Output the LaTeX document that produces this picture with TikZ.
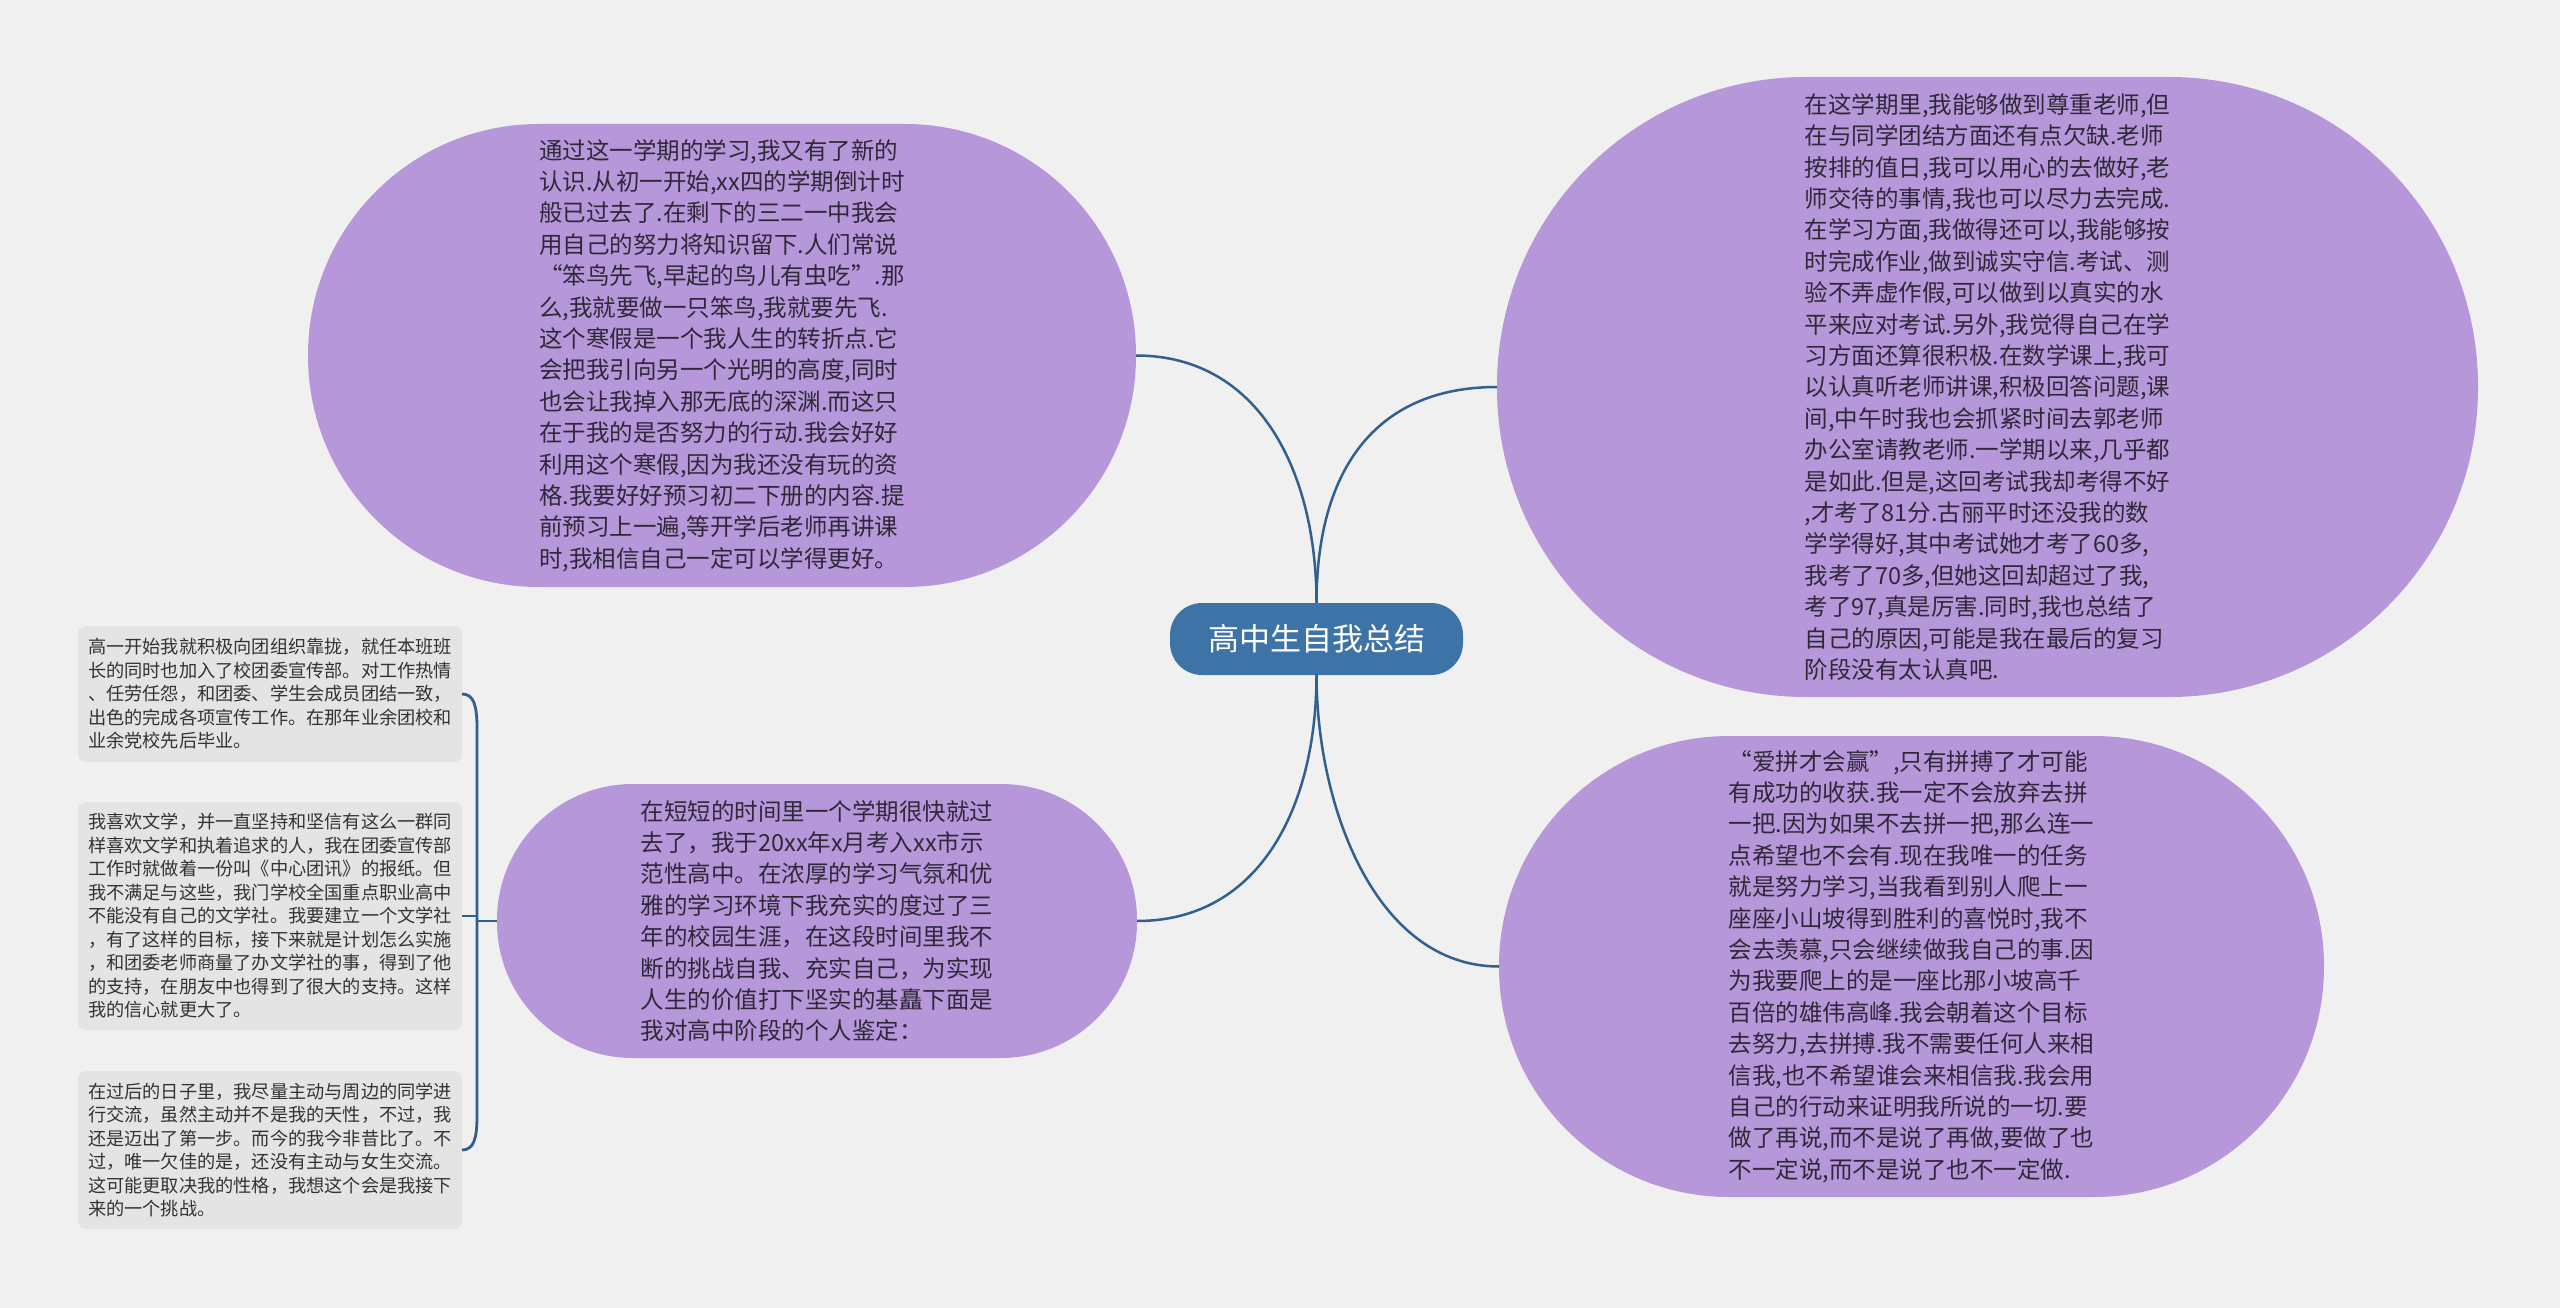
\documentclass[tikz,border=0pt]{standalone}
\usepackage{fontspec}
\setmainfont{Noto Sans CJK SC}
\usetikzlibrary{calc}
\definecolor{bg}{RGB}{240,240,240}
\definecolor{bub}{RGB}{182,151,218}
\definecolor{ctr}{RGB}{61,115,166}
\definecolor{conn}{RGB}{47,96,142}
\definecolor{boxf}{RGB}{228,228,228}
\definecolor{txt}{RGB}{48,40,56}
\definecolor{boxtxt}{RGB}{51,51,51}
\begin{document}
\begin{tikzpicture}[x=1pt,y=-1pt,
  bubble/.style={fill=bub, inner sep=0pt, outer sep=0pt, align=left, text=txt,
    font=\fontsize{23.5}{31.4}\selectfont},
  leaf/.style={fill=boxf, rounded corners=8pt, inner sep=0pt, outer sep=0pt,
    minimum width=384pt, align=left, text=boxtxt, font=\fontsize{18.2}{23.5}\selectfont},
  root/.style={fill=ctr, rounded corners=32pt, inner sep=0pt, outer sep=0pt,
    minimum width=293pt, minimum height=72pt, text=white, font=\fontsize{31}{36}\selectfont},
  link/.style={draw=conn, line width=2.5pt},
  brace/.style={draw=conn, line width=2.8pt}]
\fill[bg] (0,0) rectangle (2560,1308);
\useasboundingbox (0,0) rectangle (2560,1308);

\node[root] (root) at (1316.5,639) {高中生自我总结};

\node[bubble, minimum width=828pt, minimum height=463pt, rounded corners=231pt] (tl) at (722,355.5) {%
通过这一学期的学习,我又有了新的\\
认识.从初一开始,xx四的学期倒计时\\
般已过去了.在剩下的三二一中我会\\
用自己的努力将知识留下.人们常说\\
“笨鸟先飞,早起的鸟儿有虫吃”.那\\
么,我就要做一只笨鸟,我就要先飞.\\
这个寒假是一个我人生的转折点.它\\
会把我引向另一个光明的高度,同时\\
也会让我掉入那无底的深渊.而这只\\
在于我的是否努力的行动.我会好好\\
利用这个寒假,因为我还没有玩的资\\
格.我要好好预习初二下册的内容.提\\
前预习上一遍,等开学后老师再讲课\\
时,我相信自己一定可以学得更好。};

\node[bubble, minimum width=981pt, minimum height=620pt, rounded corners=309pt] (tr) at (1987.5,387) {%
在这学期里,我能够做到尊重老师,但\\
在与同学团结方面还有点欠缺.老师\\
按排的值日,我可以用心的去做好,老\\
师交待的事情,我也可以尽力去完成.\\
在学习方面,我做得还可以,我能够按\\
时完成作业,做到诚实守信.考试、测\\
验不弄虚作假,可以做到以真实的水\\
平来应对考试.另外,我觉得自己在学\\
习方面还算很积极.在数学课上,我可\\
以认真听老师讲课,积极回答问题,课\\
间,中午时我也会抓紧时间去郭老师\\
办公室请教老师.一学期以来,几乎都\\
是如此.但是,这回考试我却考得不好\\
,才考了81分.古丽平时还没我的数\\
学学得好,其中考试她才考了60多,\\
我考了70多,但她这回却超过了我,\\
考了97,真是厉害.同时,我也总结了\\
自己的原因,可能是我在最后的复习\\
阶段没有太认真吧.};

\node[bubble, minimum width=825pt, minimum height=461pt, rounded corners=230pt] (br) at (1911.5,966.5) {%
“爱拼才会赢”,只有拼搏了才可能\\
有成功的收获.我一定不会放弃去拼\\
一把.因为如果不去拼一把,那么连一\\
点希望也不会有.现在我唯一的任务\\
就是努力学习,当我看到别人爬上一\\
座座小山坡得到胜利的喜悦时,我不\\
会去羡慕,只会继续做我自己的事.因\\
为我要爬上的是一座比那小坡高千\\
百倍的雄伟高峰.我会朝着这个目标\\
去努力,去拼搏.我不需要任何人来相\\
信我,也不希望谁会来相信我.我会用\\
自己的行动来证明我所说的一切.要\\
做了再说,而不是说了再做,要做了也\\
不一定说,而不是说了也不一定做.};

\node[bubble, minimum width=640pt, minimum height=274pt, rounded corners=136pt] (bm) at (817,921) {%
在短短的时间里一个学期很快就过\\
去了，我于20xx年x月考入xx市示\\
范性高中。在浓厚的学习气氛和优\\
雅的学习环境下我充实的度过了三\\
年的校园生涯，在这段时间里我不\\
断的挑战自我、充实自己，为实现\\
人生的价值打下坚实的基矗下面是\\
我对高中阶段的个人鉴定：};

\node[leaf, minimum height=136pt] (b1) at (270,694) {%
高一开始我就积极向团组织靠拢，就任本班班\\
长的同时也加入了校团委宣传部。对工作热情\\
、任劳任怨，和团委、学生会成员团结一致，\\
出色的完成各项宣传工作。在那年业余团校和\\
业余党校先后毕业。};

\node[leaf, minimum height=228pt] (b2) at (270,916) {%
我喜欢文学，并一直坚持和坚信有这么一群同\\
样喜欢文学和执着追求的人，我在团委宣传部\\
工作时就做着一份叫《中心团讯》的报纸。但\\
我不满足与这些，我门学校全国重点职业高中\\
不能没有自己的文学社。我要建立一个文学社\\
，有了这样的目标，接下来就是计划怎么实施\\
，和团委老师商量了办文学社的事，得到了他\\
的支持，在朋友中也得到了很大的支持。这样\\
我的信心就更大了。};

\node[leaf, minimum height=158pt] (b3) at (270,1150) {%
在过后的日子里，我尽量主动与周边的同学进\\
行交流，虽然主动并不是我的天性，不过，我\\
还是迈出了第一步。而今的我今非昔比了。不\\
过，唯一欠佳的是，还没有主动与女生交流。\\
这可能更取决我的性格，我想这个会是我接下\\
来的一个挑战。};

% main connectors
\draw[link] (root.north) .. controls +(0,-130) and +(124,0) .. (tl.east);
\draw[link] (root.north) .. controls +(0,-130) and +(-124,0) .. (tr.west);
\draw[link] (root.south) .. controls +(0,130) and +(124,0) .. (bm.east);
\draw[link] (root.south) .. controls +(0,130) and +(-124,0) .. (br.west);

% bracket to leaves
\coordinate (jtop) at (477,728);
\coordinate (jbot) at (477,1116);
\coordinate (j) at (477,921);
\draw[brace] (b1.east) .. controls +(12,0) and +(0,-22) .. (jtop) -- (jbot)
  .. controls +(0,22) and +(12,0) .. (b3.east);
\draw[brace] (b2.east) -- (b2.east -| j);
\draw[brace] (j) -- (bm.west);
\end{tikzpicture}
\end{document}
